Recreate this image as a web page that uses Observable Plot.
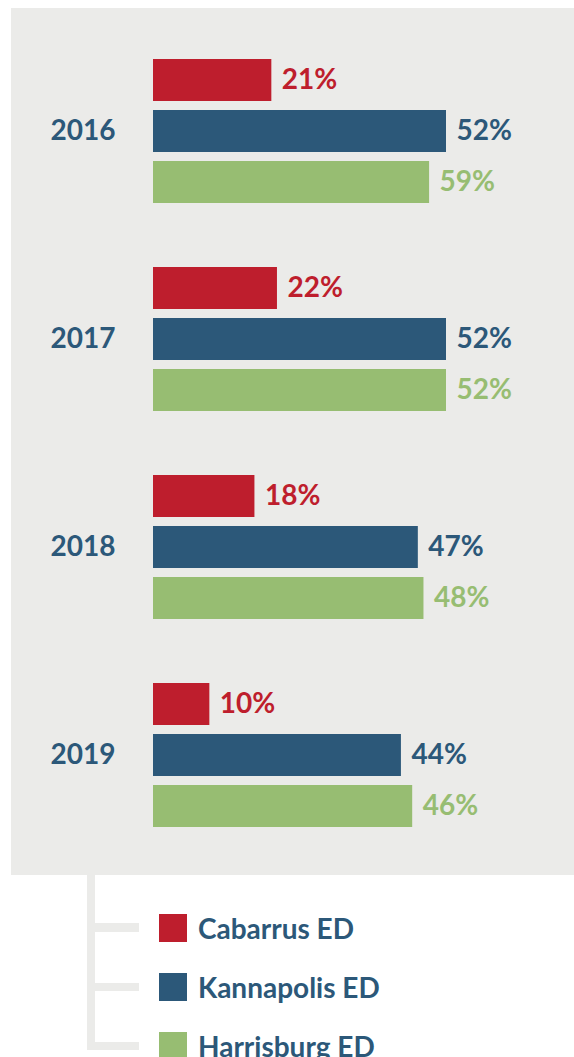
<!DOCTYPE html>
<html><head><meta charset="utf-8">
<script src="https://cdn.jsdelivr.net/npm/d3@7"></script>
<script src="https://cdn.jsdelivr.net/npm/@observablehq/plot@0.6"></script>
<style>
body{margin:0;background:#fff;font-family:Lato,"Open Sans",sans-serif;}
#panel{position:absolute;left:11px;top:8px;width:563px;height:867px;background:#ebebe9;overflow:hidden;}
#legend{position:absolute;left:0;top:875px;width:574px;height:182px;overflow:hidden;}
.tree{position:absolute;background:#ebebe9;}
.item{position:absolute;left:159px;height:28px;display:flex;align-items:center;white-space:nowrap;}
.sw{width:28px;height:28px;flex:none;}
.lab{margin-left:11px;font-size:28px;font-weight:700;color:#2c5879;line-height:28px;}
</style></head><body>
<div id="panel"></div><div id="legend"></div>
<script>
const years = ["2016", "2017", "2018", "2019"];
const series = ["Cabarrus ED", "Kannapolis ED", "Harrisburg ED"];
const colors = ["#be1e2d", "#2c5879", "#97bd72"];
// bar lengths as drawn (percent)
const cabarrus = [21, 22, 18, 10];
const kannapolis = [52, 52, 47, 44];
const harrisburg = [49, 52, 48, 46];
// printed labels
const cabarrusLabels = ["21%", "22%", "18%", "10%"];
const kannapolisLabels = ["52%", "52%", "47%", "44%"];
const harrisburgLabels = ["59%", "52%", "48%", "46%"];

const values = [cabarrus, kannapolis, harrisburg];
const labels = [cabarrusLabels, kannapolisLabels, harrisburgLabels];
const data = years.flatMap((yr, i) => series.map((s, j) => ({year: yr, series: s, value: values[j][i], label: labels[j][i]})));

const chart = Plot.plot({
  width: 563, height: 867,
  marginLeft: 142, marginRight: 0, marginTop: 50, marginBottom: 48,
  style: {background: "transparent", fontFamily: "Lato, 'Open Sans', sans-serif", fontWeight: "bold", overflow: "visible"},
  x: {domain: [0, 52], range: [142, 435], axis: null},
  y: {domain: series, paddingInner: 0.1765, paddingOuter: 0, axis: null},
  fy: {domain: years, paddingInner: 0.308, paddingOuter: 0},
  color: {domain: series, range: colors},
  marks: [
    Plot.barX(data, {x: "value", y: "series", fy: "year", fill: "series"}),
    Plot.text(data, {x: "value", y: "series", fy: "year", text: "label", fill: "series", textAnchor: "start", dx: 10, fontSize: 28, fontWeight: "bold"}),
    Plot.axisFy({anchor: "left", tickSize: 0, tickPadding: 38, fontSize: 28, fontWeight: "bold", color: "#2c5879", label: null})
  ]
});
document.getElementById("panel").appendChild(chart);

const legend = document.getElementById("legend");
const tree = [[87, 0, 8, 175], [87, 48, 52, 9], [87, 108, 52, 8], [87, 167, 52, 8]];
tree.forEach(([l, t, w, h]) => {
  const d = document.createElement("div");
  d.className = "tree";
  Object.assign(d.style, {left: l + "px", top: t + "px", width: w + "px", height: h + "px"});
  legend.appendChild(d);
});
series.forEach((s, i) => {
  const it = document.createElement("div");
  it.className = "item";
  it.style.top = (39 + i * 59) + "px";
  const sw = document.createElement("div");
  sw.className = "sw";
  sw.style.background = colors[i];
  const lb = document.createElement("span");
  lb.className = "lab";
  lb.textContent = s;
  it.appendChild(sw); it.appendChild(lb);
  legend.appendChild(it);
});
</script>
</body></html>
